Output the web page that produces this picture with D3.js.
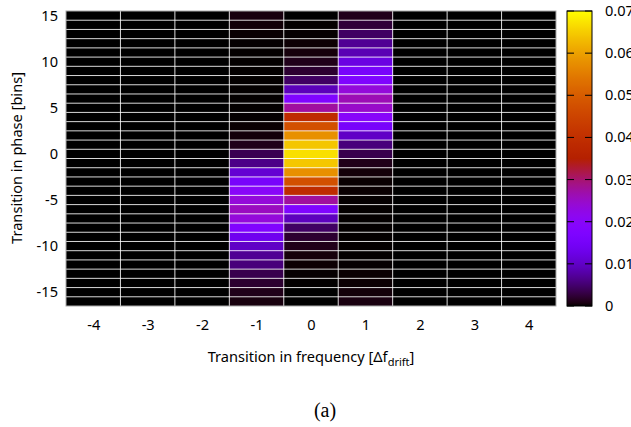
<!DOCTYPE html>
<html>
<head>
<meta charset="utf-8">
<script src="https://cdn.jsdelivr.net/npm/d3@7"></script>
<style>
  html, body { margin: 0; padding: 0; background: #fff; }
  svg { display: block; }
  text { font-family: "Noto Sans", "Open Sans", sans-serif; fill: #000; }
</style>
</head>
<body>
<svg id="chart" width="631" height="427"></svg>
<script>
// ---- data ----
const freqBins = [-4, -3, -2, -1, 0, 1, 2, 3, 4];
const phaseBins = [-16, -15, -14, -13, -12, -11, -10, -9, -8, -7, -6, -5, -4, -3, -2, -1,
                   0, 1, 2, 3, 4, 5, 6, 7, 8, 9, 10, 11, 12, 13, 14, 15];
// values per frequency column, listed for phase -16 .. 15
const colM4 = [0,0,0,0,0,0,0,0,0,0,0,0,0,0,0,0,0,0,0,0,0,0,0,0,0,0,0,0,0,0,0,0];
const colM3 = [0,0,0,0,0,0,0,0,0,0,0,0,0,0,0,0,0,0,0,0,0,0,0,0,0,0,0,0,0,0,0,0];
const colM2 = [0,0,0,0,0,0,0,0,0,0,0,0,0,0,0,0,0,0,0,0,0,0,0,0,0,0,0,0,0,0,0,0];
const colM1 = [0.0006, 0.0011, 0.0021, 0.0034, 0.0056, 0.0069, 0.0099, 0.0135, 0.018, 0.0236,
               0.0255, 0.0236, 0.0199, 0.0155, 0.0108, 0.0062, 0.0036, 0.0011, 0.0004, 0.0001,
               0.00003, 0.00002, 0.00002, 0.00002, 0.00002, 0.00002, 0.00002, 0.00002,
               0.00003, 0.0001, 0.0003, 0.0006];
const col0  = [0, 0, 0.00001, 0.00004, 0.00015, 0.0005, 0.0011, 0.0021, 0.0044, 0.0093,
               0.0176, 0.0276, 0.039, 0.0475, 0.0579, 0.0645, 0.067, 0.0643, 0.0578, 0.0476,
               0.0388, 0.0275, 0.0176, 0.0091, 0.0044, 0.0021, 0.0011, 0.0005, 0.00018,
               0.00004, 0.00001, 0];
const colP1 = [0.0007, 0.0004, 0.00015, 0.0001, 0.00003, 0.00002, 0.00002, 0.00002, 0.00002,
               0.00002, 0.00002, 0.00003, 0.0001, 0.0001, 0.0004, 0.0011, 0.0034, 0.0056,
               0.0099, 0.0155, 0.0199, 0.0249, 0.0262, 0.0236, 0.0176, 0.0155, 0.0121, 0.0087,
               0.0069, 0.0044, 0.0025, 0.0011];
const colP2 = [0,0,0,0,0,0,0,0,0,0,0,0,0,0,0,0,0,0,0,0,0,0,0,0,0,0,0,0,0,0,0,0];
const colP3 = [0,0,0,0,0,0,0,0,0,0,0,0,0,0,0,0,0,0,0,0,0,0,0,0,0,0,0,0,0,0,0,0];
const colP4 = [0,0,0,0,0,0,0,0,0,0,0,0,0,0,0,0,0,0,0,0,0,0,0,0,0,0,0,0,0,0,0,0];
const columns = [colM4, colM3, colM2, colM1, col0, colP1, colP2, colP3, colP4];

const xTicks = [-4, -3, -2, -1, 0, 1, 2, 3, 4];
const yTicks = [-15, -10, -5, 0, 5, 10, 15];
const cbTicks = [0, 0.01, 0.02, 0.03, 0.04, 0.05, 0.06, 0.07];
const cbLabels = ["0", "0.01", "0.02", "0.03", "0.04", "0.05", "0.06", "0.07"];

// ---- layout ----
const plot = { left: 66, right: 556, top: 11, bottom: 306 };
const cb = { left: 567, right: 592 };
const FS = 14.6;

const svg = d3.select("#chart");

const x = d3.scaleLinear().domain([-4.5, 4.5]).range([plot.left, plot.right]);
const y = d3.scaleLinear().domain([-16.5, 15.5]).range([plot.bottom, plot.top]);
const hyphenFmt = d => String(d);

// gnuplot default palette (rgbformulae 7,5,15)
function gnuplotPalette(t) {
  t = Math.max(0, Math.min(1, t));
  const r = Math.sqrt(t), g = t * t * t, b = Math.max(0, Math.sin(2 * Math.PI * t));
  return d3.rgb(r * 255, g * 255, Math.min(1, b) * 255).toString();
}
const color = d3.scaleSequential(gnuplotPalette).domain([0, 0.07]);

const cells = [];
freqBins.forEach((f, i) => {
  phaseBins.forEach((p, j) => cells.push({ f, p, v: columns[i][j] }));
});

svg.append("g").selectAll("rect").data(cells).join("rect")
  .attr("x", d => x(d.f - 0.5))
  .attr("y", d => y(d.p + 0.5))
  .attr("width", d => x(d.f + 0.5) - x(d.f - 0.5))
  .attr("height", d => y(d.p - 0.5) - y(d.p + 0.5))
  .attr("fill", d => color(d.v))
  .attr("shape-rendering", "crispEdges");

// grid lines at cell boundaries
const grid = svg.append("g").attr("stroke", "#fff").attr("stroke-width", 1).attr("stroke-opacity", 0.85);
const hb = phaseBins.map(p => p + 0.5).slice(0, -1);
grid.selectAll("line.h").data(hb).join("line")
  .attr("x1", plot.left).attr("x2", plot.right)
  .attr("y1", d => y(d)).attr("y2", d => y(d));
const vb = freqBins.map(f => f + 0.5).slice(0, -1);
grid.selectAll("line.v").data(vb).join("line")
  .attr("y1", plot.top).attr("y2", plot.bottom)
  .attr("x1", d => x(d)).attr("x2", d => x(d));

svg.append("rect")
  .attr("x", plot.left).attr("y", plot.top)
  .attr("width", plot.right - plot.left).attr("height", plot.bottom - plot.top)
  .attr("fill", "none").attr("stroke", "#aaa").attr("stroke-width", 1);

// axes
const xAxis = svg.append("g").attr("transform", `translate(0,${plot.bottom + 14})`)
  .call(d3.axisBottom(x).tickValues(xTicks).tickSize(0).tickPadding(0).tickFormat(hyphenFmt));
xAxis.select(".domain").remove();
xAxis.selectAll("text").attr("font-size", FS).attr("font-family", "Noto Sans, sans-serif").attr("fill", "#000");

const yAxis = svg.append("g").attr("transform", `translate(${plot.left - 8},0)`)
  .call(d3.axisLeft(y).tickValues(yTicks).tickSize(0).tickPadding(0).tickFormat(hyphenFmt));
yAxis.select(".domain").remove();
yAxis.selectAll("text").attr("font-size", FS).attr("font-family", "Noto Sans, sans-serif").attr("fill", "#000");

// axis titles
const xt = svg.append("text").attr("x", 311).attr("y", 362).attr("text-anchor", "middle").attr("font-size", FS);
xt.append("tspan").text("Transition in frequency [Δf");
xt.append("tspan").attr("font-size", 11).attr("dy", 3.5).text("drift");
xt.append("tspan").attr("dy", -3.5).text("]");

svg.append("text").attr("transform", "translate(22,158) rotate(-90)")
  .attr("text-anchor", "middle").attr("font-size", FS).text("Transition in phase [bins]");

svg.append("text").attr("x", 325).attr("y", 417).attr("text-anchor", "middle")
  .style("font-family", "'Liberation Serif', 'DejaVu Serif', serif").attr("font-size", 20).text("(a)");

// colorbar
const cy = d3.scaleLinear().domain([0, 0.07]).range([plot.bottom, plot.top]);
const defs = svg.append("defs");
const grad = defs.append("linearGradient").attr("id", "cbgrad")
  .attr("x1", 0).attr("y1", 1).attr("x2", 0).attr("y2", 0);
const stops = d3.range(0, 101).map(i => i / 100);
grad.selectAll("stop").data(stops).join("stop")
  .attr("offset", d => d).attr("stop-color", d => color(d * 0.07));
svg.append("rect").attr("x", cb.left).attr("y", plot.top)
  .attr("width", cb.right - cb.left).attr("height", plot.bottom - plot.top)
  .attr("fill", "url(#cbgrad)").attr("stroke", "#000").attr("stroke-width", 1);

const cbt = svg.append("g").attr("stroke", "#000").attr("stroke-width", 1);
cbt.selectAll("line.l").data(cbTicks).join("line")
  .attr("x1", cb.left).attr("x2", cb.left + 7)
  .attr("y1", d => cy(d)).attr("y2", d => cy(d));
cbt.selectAll("line.r").data(cbTicks).join("line")
  .attr("x1", cb.right - 7).attr("x2", cb.right)
  .attr("y1", d => cy(d)).attr("y2", d => cy(d));

svg.append("g").selectAll("text").data(cbTicks).join("text")
  .attr("x", 605).attr("y", d => cy(d) + 5)
  .attr("font-size", FS).text((d, i) => cbLabels[i]);
</script>
</body>
</html>
